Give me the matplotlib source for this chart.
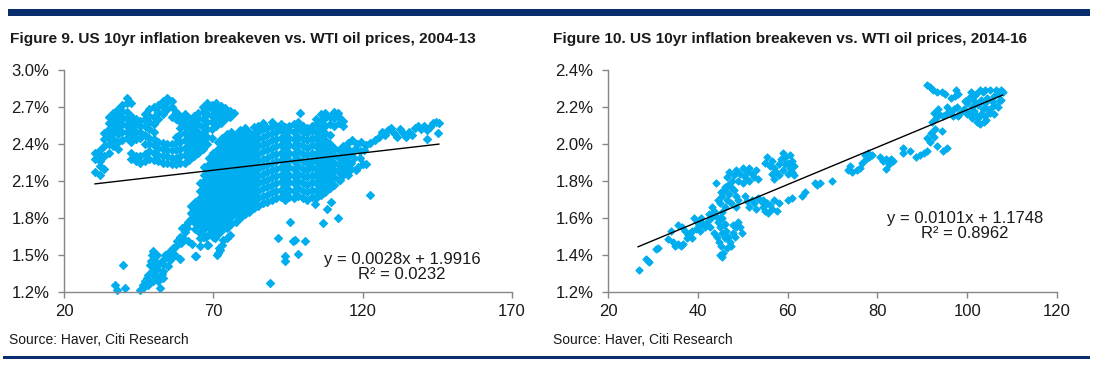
import matplotlib
matplotlib.use("Agg")
import matplotlib.pyplot as plt
from matplotlib.patches import Rectangle
from matplotlib.ticker import FuncFormatter, FixedLocator
from matplotlib import font_manager

# ---------------- data ----------------
# Figure 9 (2004-13): WTI oil price (x, $) vs US 10yr breakeven (y, %)
# columns of points: (oil price, [breakevens])
F9_PRE_CRISIS = [
    (30.5, [2.17, 2.28, 2.33]),
    (32.0, [2.15, 2.22, 2.26, 2.31, 2.35]),
    (33.5, [2.20, 2.30, 2.38, 2.44, 2.49]),
    (35.0, [2.33, 2.40, 2.46, 2.52, 2.57, 2.62]),
    (36.5, [2.38, 2.44, 2.50, 2.55, 2.60, 2.65]),
    (38.0, [2.36, 2.42, 2.48, 2.53, 2.58, 2.63, 2.68]),
    (39.5, [2.43, 2.50, 2.56, 2.62, 2.67, 2.72]),
    (41.0, [2.45, 2.50, 2.55, 2.60, 2.66, 2.73, 2.77]),
    (42.5, [2.28, 2.33, 2.42, 2.47, 2.53, 2.58, 2.63, 2.73]),
    (44.0, [2.26, 2.30, 2.44, 2.50, 2.56, 2.60]),
    (45.5, [2.25, 2.30, 2.45, 2.50, 2.55, 2.59]),
    (47.0, [2.26, 2.32, 2.40, 2.47, 2.55, 2.60, 2.64]),
    (48.5, [2.28, 2.34, 2.40, 2.45, 2.52, 2.58, 2.63, 2.68]),
    (50.0, [2.27, 2.33, 2.39, 2.44, 2.50, 2.56, 2.62, 2.70]),
    (51.5, [2.26, 2.31, 2.37, 2.42, 2.60, 2.66, 2.72]),
    (53.0, [2.25, 2.30, 2.36, 2.41, 2.64, 2.70, 2.75]),
    (54.5, [2.25, 2.30, 2.35, 2.40, 2.68, 2.74, 2.77]),
    (56.0, [2.24, 2.29, 2.35, 2.40, 2.62, 2.70, 2.75]),
    (57.5, [2.24, 2.29, 2.35, 2.41, 2.46, 2.60, 2.66]),
    (59.0, [2.25, 2.30, 2.36, 2.42, 2.48, 2.53, 2.58, 2.63]),
    (60.5, [2.25, 2.31, 2.37, 2.43, 2.49, 2.55, 2.60, 2.64]),
    (62.0, [2.27, 2.33, 2.39, 2.45, 2.51, 2.56, 2.61]),
    (63.5, [2.30, 2.36, 2.42, 2.48, 2.53, 2.58, 2.63]),
    (65.0, [2.33, 2.39, 2.45, 2.50, 2.56, 2.61, 2.65]),
    (66.5, [2.36, 2.42, 2.48, 2.54, 2.60, 2.66, 2.70]),
    (68.0, [2.40, 2.46, 2.52, 2.58, 2.64, 2.69, 2.73]),
    (69.5, [2.45, 2.52, 2.58, 2.63, 2.68, 2.72]),
    (71.0, [2.55, 2.60, 2.65, 2.70, 2.73]),
    (72.5, [2.57, 2.62, 2.67, 2.71]),
    (74.0, [2.60, 2.65, 2.69]),
    (75.5, [2.62, 2.67]),
    (77.0, [2.65]),
]

F9_MAIN = [
    (62.5, [1.78, 1.84, 1.90]),
    (64.0, [1.71, 1.76, 1.82, 1.87, 1.93]),
    (65.5, [1.68, 1.74, 1.79, 1.85, 1.90, 1.96, 2.02, 2.08]),
    (67.0, [1.65, 1.71, 1.76, 1.82, 1.87, 1.93, 1.99, 2.04, 2.10, 2.15, 2.21]),
    (68.5, [1.67, 1.73, 1.79, 1.84, 1.90, 1.96, 2.01, 2.07, 2.12, 2.18, 2.24, 2.29]),
    (70.0, [1.65, 1.70, 1.76, 1.81, 1.87, 1.93, 1.98, 2.04, 2.09, 2.15, 2.21, 2.27, 2.33]),
    (71.5, [1.67, 1.73, 1.78, 1.84, 1.90, 1.95, 2.01, 2.07, 2.12, 2.18, 2.24, 2.30, 2.36, 2.42]),
    (73.0, [1.70, 1.75, 1.81, 1.87, 1.92, 1.98, 2.04, 2.09, 2.15, 2.21, 2.27, 2.33, 2.39, 2.45]),
    (74.5, [1.72, 1.78, 1.84, 1.89, 1.95, 2.01, 2.06, 2.12, 2.18, 2.24, 2.30, 2.36, 2.42, 2.48]),
    (76.0, [1.75, 1.81, 1.86, 1.92, 1.98, 2.03, 2.09, 2.15, 2.21, 2.27, 2.33, 2.39, 2.45, 2.50]),
    (77.5, [1.77, 1.83, 1.89, 1.95, 2.00, 2.06, 2.12, 2.18, 2.24, 2.30, 2.36, 2.42, 2.48]),
    (79.0, [1.80, 1.86, 1.92, 1.97, 2.03, 2.09, 2.15, 2.21, 2.27, 2.33, 2.39, 2.45, 2.51]),
    (80.5, [1.83, 1.89, 1.94, 2.00, 2.06, 2.12, 2.18, 2.24, 2.30, 2.36, 2.42, 2.48, 2.53]),
    (82.0, [1.85, 1.91, 1.97, 2.03, 2.09, 2.15, 2.21, 2.27, 2.33, 2.39, 2.45, 2.50]),
    (83.5, [1.88, 1.94, 2.00, 2.06, 2.12, 2.18, 2.24, 2.30, 2.36, 2.42, 2.48, 2.54]),
    (85.0, [1.90, 1.96, 2.02, 2.08, 2.14, 2.20, 2.26, 2.32, 2.38, 2.44, 2.50, 2.55]),
    (86.5, [1.92, 1.98, 2.04, 2.10, 2.16, 2.22, 2.28, 2.34, 2.40, 2.46, 2.52, 2.57]),
    (88.0, [1.93, 1.99, 2.05, 2.11, 2.17, 2.23, 2.29, 2.35, 2.41, 2.47, 2.53]),
    (89.5, [1.95, 2.01, 2.07, 2.13, 2.19, 2.25, 2.31, 2.37, 2.43, 2.49, 2.55, 2.58]),
    (91.0, [1.96, 2.02, 2.08, 2.14, 2.20, 2.26, 2.32, 2.38, 2.44, 2.50, 2.55]),
    (92.5, [1.97, 2.03, 2.09, 2.15, 2.21, 2.27, 2.33, 2.39, 2.45, 2.51, 2.56]),
    (94.0, [1.95, 2.01, 2.07, 2.13, 2.19, 2.25, 2.31, 2.37, 2.43, 2.49, 2.54]),
    (95.5, [1.97, 2.03, 2.09, 2.15, 2.21, 2.27, 2.33, 2.39, 2.45, 2.51, 2.55]),
    (97.0, [1.96, 2.02, 2.08, 2.14, 2.20, 2.26, 2.32, 2.38, 2.44, 2.50, 2.56]),
    (98.5, [1.98, 2.04, 2.10, 2.16, 2.22, 2.28, 2.34, 2.40, 2.46, 2.52, 2.58]),
    (100.0, [1.96, 2.02, 2.08, 2.14, 2.20, 2.26, 2.32, 2.38, 2.44, 2.50, 2.55]),
    (101.5, [1.95, 2.01, 2.07, 2.13, 2.19, 2.25, 2.31, 2.37, 2.43, 2.49, 2.53]),
    (103.0, [1.97, 2.03, 2.09, 2.15, 2.21, 2.27, 2.33, 2.39, 2.45, 2.51, 2.55]),
    (104.5, [1.96, 2.02, 2.08, 2.14, 2.20, 2.26, 2.32, 2.38, 2.44, 2.50, 2.56, 2.60]),
    (106.0, [1.99, 2.05, 2.11, 2.17, 2.23, 2.29, 2.35, 2.41, 2.47, 2.53, 2.59, 2.64]),
    (107.5, [2.01, 2.07, 2.13, 2.19, 2.25, 2.31, 2.37, 2.43, 2.49, 2.55, 2.61, 2.65]),
    (109.0, [2.04, 2.10, 2.16, 2.22, 2.28, 2.34, 2.40, 2.47, 2.56, 2.62]),
    (110.5, [2.07, 2.13, 2.19, 2.25, 2.31, 2.37, 2.55, 2.61, 2.66]),
    (112.0, [2.11, 2.17, 2.23, 2.29, 2.35, 2.57, 2.62]),
    (113.5, [2.15, 2.21, 2.27, 2.33, 2.38, 2.55, 2.59]),
    (115.0, [2.18, 2.24, 2.30, 2.36, 2.41]),
]

F9_CRASH_ARM = [
    (37.1, 1.26), (37.6, 1.22), (39.9, 1.415), (40.4, 1.23),
    (45.4, 1.22), (46.6, 1.26), (47.7, 1.31), (48.2, 1.34), (49.4, 1.37),
    (48.8, 1.42), (49.4, 1.50), (49.9, 1.53), (50.5, 1.45), (51.0, 1.39),
    (52.1, 1.33), (53.3, 1.37), (51.6, 1.29), (49.9, 1.29), (48.2, 1.26),
    (52.1, 1.23), (51.0, 1.50), (53.3, 1.46), (54.4, 1.50), (55.5, 1.53),
    (56.6, 1.56), (57.7, 1.61), (56.6, 1.49), (58.8, 1.65), (60.0, 1.62),
    (59.4, 1.72), (61.1, 1.72), (61.6, 1.77), (62.7, 1.80), (63.9, 1.85),
    (63.3, 1.88), (64.4, 1.77), (65.0, 1.82), (64.2, 1.49), (65.5, 1.64),
    (66.6, 1.66), (67.8, 1.58), (71.1, 1.50), (72.2, 1.54), (72.8, 1.58),
    (73.3, 1.62), (74.5, 1.64), (75.6, 1.66), (56.6, 1.55), (57.1, 1.50),
    (53.8, 1.50), (55.4, 1.46), (53.2, 1.43), (52.7, 1.35), (53.2, 1.31),
    (58.8, 1.47), (65.5, 1.57), (63.8, 1.49), (68.3, 1.58), (62.7, 1.59),
    (61.6, 1.61), (59.9, 1.64), (60.5, 1.69), (61.0, 1.74), (62.1, 1.78),
    (63.2, 1.85), (64.9, 1.81), (66.0, 1.73), (67.1, 1.76), (66.6, 1.65),
    (67.7, 1.65), (69.4, 1.69), (70.5, 1.64), (71.6, 1.52), (72.0, 1.56),
    (50.4, 1.33), (47.0, 1.29), (46.5, 1.23), (49.0, 1.45), (50.2, 1.41),
    (51.8, 1.43), (54.8, 1.41), (58.0, 1.58), (59.2, 1.60),
]

F9_HIGH_OIL = [
    (116.5, 2.43), (118.0, 2.40), (119.5, 2.42), (121.0, 2.39), (122.5, 2.41),
    (124.0, 2.43), (125.5, 2.46), (126.5, 2.50), (127.5, 2.47), (128.5, 2.51),
    (129.5, 2.53), (130.5, 2.49), (131.5, 2.46), (132.5, 2.52), (133.5, 2.49),
    (134.5, 2.46), (135.5, 2.50), (136.5, 2.47), (137.5, 2.53), (138.5, 2.55),
    (139.5, 2.52), (140.5, 2.55), (141.5, 2.51), (141.5, 2.44), (142.5, 2.54),
    (143.5, 2.57), (144.5, 2.58), (145.5, 2.57), (145.2, 2.49),
    (117.5, 2.36), (119.0, 2.34), (120.5, 2.35), (116.0, 2.33), (114.5, 2.30),
    (117.0, 2.29), (119.0, 2.29), (112.5, 2.34), (114.0, 2.27), (116.0, 2.25),
    (120.1, 2.24), (121.2, 2.24), (117.9, 2.19), (112.5, 2.20), (113.5, 2.22),
    (114.5, 2.18), (115.2, 2.15), (116.2, 2.20), (113.0, 2.16), (112.3, 2.11),
    (118.5, 2.21),
]

F9_OUTLIERS = [
    (88.9, 1.27), (91.7, 1.64), (93.9, 1.49), (93.9, 1.45), (95.6, 1.77),
    (96.7, 1.61), (97.5, 1.62), (98.4, 1.51), (100.6, 1.61), (106.7, 1.76),
    (107.9, 1.87), (111.8, 1.80), (122.3, 1.99), (98.9, 2.65), (111.8, 2.65),
    (104.0, 1.91), (109.5, 1.93),
]

F9_FIT = (0.0028, 1.9916)          # slope, intercept
F9_FIT_RANGE = (30.4, 145.5)
F9_LABEL = "y = 0.0028x + 1.9916\nR² = 0.0232"
F9_XTICKS = [20, 70, 120, 170]
F9_YTICKS = [1.2, 1.5, 1.8, 2.1, 2.4, 2.7, 3.0]

# Figure 10 (2014-16)
F10_POINTS = [
    (26.8, 1.32), (28.4, 1.38), (28.8, 1.37), (29.1, 1.36), (30.6, 1.43),
    (31.2, 1.44), (33.3, 1.485), (34.0, 1.53), (34.5, 1.47), (35.0, 1.45),
    (35.5, 1.46), (36.2, 1.45), (36.8, 1.46), (35.7, 1.56), (36.5, 1.55),
    (37.2, 1.53), (37.8, 1.51), (38.2, 1.52), (37.5, 1.49), (38.6, 1.49),
    (38.8, 1.53), (39.2, 1.60), (39.8, 1.58), (40.3, 1.56), (40.8, 1.60),
    (41.2, 1.57), (41.6, 1.55), (40.5, 1.53), (39.5, 1.54), (42.0, 1.58),
    (42.5, 1.62), (43.0, 1.60), (43.1, 1.66), (43.5, 1.64), (44.0, 1.61),
    (44.5, 1.58), (45.0, 1.60), (45.5, 1.63), (46.1, 1.57), (42.8, 1.55),
    (43.6, 1.52), (44.2, 1.50), (44.0, 1.79), (44.6, 1.70), (45.0, 1.68),
    (45.5, 1.72), (46.0, 1.75), (46.5, 1.70), (47.0, 1.73), (47.5, 1.77),
    (48.0, 1.75), (48.5, 1.72), (49.0, 1.70), (46.0, 1.66), (47.5, 1.68),
    (48.5, 1.66), (45.2, 1.74), (46.8, 1.78), (46.5, 1.82), (47.0, 1.85),
    (47.6, 1.80), (48.0, 1.83), (48.5, 1.86), (49.0, 1.80), (49.5, 1.84),
    (50.0, 1.87), (50.5, 1.82), (51.0, 1.85), (51.5, 1.87), (52.0, 1.84),
    (52.5, 1.82), (53.0, 1.86), (53.5, 1.81), (50.0, 1.79), (51.5, 1.80),
    (46.0, 1.77), (45.3, 1.60), (45.8, 1.56), (46.3, 1.53), (46.8, 1.50),
    (47.2, 1.47), (46.0, 1.49), (45.5, 1.52), (45.0, 1.55), (46.5, 1.44),
    (47.5, 1.45), (47.8, 1.52), (47.8, 1.56), (48.3, 1.50), (48.6, 1.55),
    (49.0, 1.58), (49.5, 1.55), (49.8, 1.52), (44.8, 1.47), (45.2, 1.45),
    (45.0, 1.40), (45.3, 1.39), (45.6, 1.41), (50.5, 1.72), (51.0, 1.69),
    (51.5, 1.66), (52.0, 1.70), (52.5, 1.68), (53.0, 1.65), (53.5, 1.71),
    (54.0, 1.69), (54.5, 1.66), (55.0, 1.64), (55.7, 1.625), (56.0, 1.67),
    (56.5, 1.65), (57.0, 1.70), (57.6, 1.64), (58.0, 1.68), (54.5, 1.70),
    (55.5, 1.68), (55.0, 1.90), (55.5, 1.93), (56.0, 1.88), (56.5, 1.91),
    (57.0, 1.87), (57.5, 1.85), (58.0, 1.89), (58.5, 1.92), (59.0, 1.95),
    (59.5, 1.93), (60.0, 1.90), (60.5, 1.94), (61.0, 1.91), (61.5, 1.88),
    (59.0, 1.86), (60.0, 1.84), (61.0, 1.85), (58.0, 1.83), (60.5, 1.87),
    (59.5, 1.89), (61.5, 1.83), (56.5, 1.84), (57.0, 1.81), (60.0, 1.70),
    (61.0, 1.71), (63.1, 1.72), (63.9, 1.74), (66.1, 1.79), (67.2, 1.79),
    (69.8, 1.80), (66.6, 1.78), (73.9, 1.88), (74.3, 1.85), (75.4, 1.86),
    (76.1, 1.87), (76.5, 1.90), (73.5, 1.86), (77.2, 1.94), (77.8, 1.95),
    (78.2, 1.93), (78.7, 1.94), (77.5, 1.92), (80.6, 1.93), (81.2, 1.91),
    (81.9, 1.92), (82.5, 1.90), (83.0, 1.92), (83.5, 1.91), (81.9, 1.865),
    (82.5, 1.89), (85.8, 1.98), (85.8, 1.95), (87.3, 1.96), (88.7, 1.93),
    (89.5, 1.94), (90.3, 1.95), (91.0, 1.96), (91.0, 2.03), (91.8, 2.01),
    (92.5, 2.04), (93.2, 1.99), (92.0, 2.06), (92.8, 2.08), (94.3, 2.07),
    (94.5, 1.96), (95.4, 1.98), (91.0, 2.32), (91.7, 2.31), (92.4, 2.29),
    (93.2, 2.28), (94.3, 2.28), (95.1, 2.27), (96.5, 2.25), (97.6, 2.29),
    (98.0, 2.27), (97.2, 2.26), (92.5, 2.17), (93.0, 2.14), (93.8, 2.16),
    (94.5, 2.15), (95.4, 2.17), (92.2, 2.12), (93.5, 2.19), (95.4, 2.20),
    (96.2, 2.18), (97.0, 2.19), (97.8, 2.20), (98.5, 2.17), (99.2, 2.19),
    (99.9, 2.16), (96.8, 2.15), (98.0, 2.15), (100.0, 2.22), (100.5, 2.25),
    (101.0, 2.20), (101.5, 2.23), (102.0, 2.27), (102.5, 2.21), (103.0, 2.24),
    (103.5, 2.28), (104.0, 2.22), (104.5, 2.25), (105.0, 2.29), (105.5, 2.23),
    (106.0, 2.26), (106.5, 2.29), (107.0, 2.27), (107.5, 2.29), (108.0, 2.28),
    (100.5, 2.17), (101.0, 2.14), (101.5, 2.18), (102.1, 2.12), (102.9, 2.11),
    (103.0, 2.16), (103.5, 2.19), (104.0, 2.15), (104.5, 2.19), (105.0, 2.17),
    (105.5, 2.20), (106.0, 2.21), (106.9, 2.20), (107.0, 2.23), (104.2, 2.13),
    (102.5, 2.14), (101.8, 2.16), (103.8, 2.12), (106.0, 2.16), (107.5, 2.24),
    (102.9, 2.29), (104.0, 2.29), (99.5, 2.23), (100.8, 2.28), (101.5, 2.26),
]

F10_FIT = (0.0101, 1.1748)
F10_FIT_RANGE = (26.7, 107.9)
F10_LABEL = "y = 0.0101x + 1.1748\nR² = 0.8962"
F10_XTICKS = [20, 40, 60, 80, 100, 120]
F10_YTICKS = [1.2, 1.4, 1.6, 1.8, 2.0, 2.2, 2.4]

TITLE_9 = "Figure 9. US 10yr inflation breakeven vs. WTI oil prices, 2004-13"
TITLE_10 = "Figure 10. US 10yr inflation breakeven vs. WTI oil prices, 2014-16"
SOURCE = "Source: Haver, Citi Research"

# ---------------- styling ----------------
POINT_COLOR = "#00AEEF"
NAVY = "#0A2D6E"
AXIS_GREY = "#868686"
TEXT = "#1a1a1a"

avail = {f.name for f in font_manager.fontManager.ttflist}
BODY = "Liberation Sans" if "Liberation Sans" in avail else "DejaVu Sans"
NARROW = "Liberation Sans Narrow" if "Liberation Sans Narrow" in avail else BODY
plt.rcParams["font.family"] = [BODY, "DejaVu Sans"]

W, H = 1097, 368
fig = plt.figure(figsize=(W / 100, H / 100), dpi=100)


def expand_cols(cols):
    xs, ys = [], []
    for x, yl in cols:
        for y in yl:
            xs.append(x)
            ys.append(y)
    return xs, ys


def expand_pairs(pairs):
    return [p[0] for p in pairs], [p[1] for p in pairs]


def style_axes(ax, xticks, yticks, xlim, ylim):
    ax.set_xlim(*xlim)
    ax.set_ylim(*ylim)
    ax.xaxis.set_major_locator(FixedLocator(xticks))
    ax.yaxis.set_major_locator(FixedLocator(yticks))
    ax.yaxis.set_major_formatter(FuncFormatter(lambda v, p: f"{v:.1f}%"))
    for s in ("top", "right"):
        ax.spines[s].set_visible(False)
    for s in ("left", "bottom"):
        ax.spines[s].set_color(AXIS_GREY)
        ax.spines[s].set_linewidth(1.0)
    ax.tick_params(axis="both", direction="out", length=4, width=1.0,
                   color=AXIS_GREY, labelsize=12, labelcolor=TEXT)
    ax.tick_params(axis="y", pad=6.5)
    ax.tick_params(axis="x", pad=5)
    ax.set_facecolor("none")


def px_axes(x0, x1, ytop, ybot):
    return fig.add_axes([x0 / W, 1 - ybot / H, (x1 - x0) / W, (ybot - ytop) / H])


MS_LEFT = 17
MS_RIGHT = 14
# ---- Figure 9 ----
ax1 = px_axes(64, 512, 70, 292)
style_axes(ax1, F9_XTICKS, F9_YTICKS, (20, 170), (1.2, 3.0))
for data, fn in ((F9_PRE_CRISIS, expand_cols), (F9_MAIN, expand_cols),
                 (F9_CRASH_ARM, expand_pairs), (F9_HIGH_OIL, expand_pairs),
                 (F9_OUTLIERS, expand_pairs)):
    xs, ys = fn(data)
    ax1.scatter(xs, ys, marker="D", s=MS_LEFT, color=POINT_COLOR,
                edgecolors=POINT_COLOR, linewidths=0.8, zorder=2, clip_on=False)
m, b = F9_FIT
ax1.plot(list(F9_FIT_RANGE), [m * F9_FIT_RANGE[0] + b, m * F9_FIT_RANGE[1] + b],
         color="black", lw=1.0, zorder=3)
ax1.text((402 - 64) / 448, (292 - 267) / 222, F9_LABEL, transform=ax1.transAxes,
         ha="center", va="center", fontsize=12, color=TEXT, linespacing=1.05)

# ---- Figure 10 ----
ax2 = px_axes(608, 1057, 70, 292)
style_axes(ax2, F10_XTICKS, F10_YTICKS, (20, 120), (1.2, 2.4))
xs, ys = expand_pairs(F10_POINTS)
ax2.scatter(xs, ys, marker="D", s=MS_RIGHT, color=POINT_COLOR, edgecolors=POINT_COLOR,
            linewidths=0.7, zorder=2, clip_on=False)
m, b = F10_FIT
ax2.plot(list(F10_FIT_RANGE), [m * F10_FIT_RANGE[0] + b, m * F10_FIT_RANGE[1] + b],
         color="black", lw=1.0, zorder=3)
ax2.text((965 - 608) / 449, (292 - 226) / 222, F10_LABEL, transform=ax2.transAxes,
         ha="center", va="center", fontsize=12, color=TEXT, linespacing=1.05)

# ---- titles, sources, rules ----
TITLE_SIZE = 12.5 if NARROW != BODY else 11.1
fig.text(10 / W, 1 - 39 / H, TITLE_9, family=[NARROW, "DejaVu Sans"], weight="bold",
         fontsize=TITLE_SIZE, color=TEXT, ha="left", va="center")
fig.text(553 / W, 1 - 39 / H, TITLE_10, family=[NARROW, "DejaVu Sans"], weight="bold",
         fontsize=TITLE_SIZE, color=TEXT, ha="left", va="center")
fig.text(9 / W, 1 - 340 / H, SOURCE, fontsize=10, color=TEXT, ha="left", va="center")
fig.text(553 / W, 1 - 340 / H, SOURCE, fontsize=10, color=TEXT, ha="left", va="center")

fig.add_artist(Rectangle((8 / W, 1 - 16 / H), (1090 - 8) / W, 7 / H,
                         transform=fig.transFigure, color=NAVY, lw=0))
fig.add_artist(Rectangle((3 / W, 1 - 359 / H), (1090 - 3) / W, 3.5 / H,
                         transform=fig.transFigure, color=NAVY, lw=0))

fig.savefig("out.png", dpi=100, facecolor="white")
